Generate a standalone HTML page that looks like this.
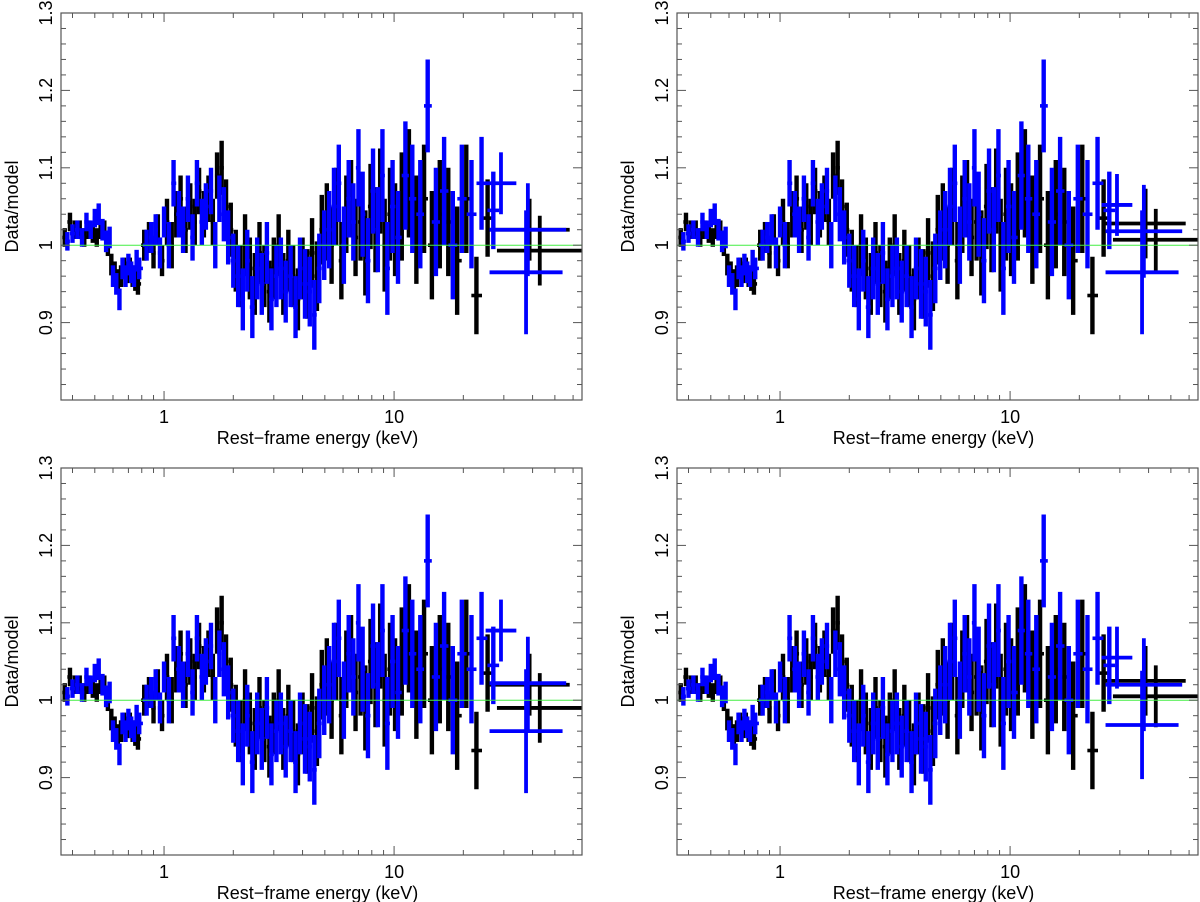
<!DOCTYPE html>
<html><head><meta charset="utf-8"><style>
html,body{margin:0;padding:0;background:#fff;}
svg{display:block;font-family:"Liberation Sans",sans-serif;}
</style></head><body>
<svg id="fig" width="1200" height="902" viewBox="0 0 1200 902" xmlns="http://www.w3.org/2000/svg"></svg>
<script>
// Black series (energy keV, ratio, error)
const blackE=[0.37,0.39,0.41,0.43,0.45,0.47,0.49,0.51,0.53,0.55,0.57,0.59,0.61,0.63,0.65,0.67,0.69,0.71,0.73,0.75,0.77,
0.82,0.86,0.9,0.94,0.98,
1.03,1.08,1.13,1.18,1.24,1.3,1.36,1.42,1.49,1.56,1.63,1.7,1.78,1.86,1.95,
2.05,2.15,2.25,2.36,2.48,2.6,2.73,2.87,3.0,3.15,3.3,3.47,3.64,3.82,4.0,4.2,4.4,4.62,4.85,
5.1,5.35,5.6,5.9,6.2,6.5,6.8,7.15,7.5,7.9,8.3,8.7,9.1,9.6,10.1,
10.8,11.6,12.5,13.5,14.6,15.8,17.2,18.8,20.6,22.8,25.5];
const blackR=[1.01,1.03,1.02,1.02,1.01,1.02,1.015,1.01,1.02,1.02,
1.0,0.975,0.965,0.955,0.96,0.97,0.965,0.97,0.96,0.955,0.95,
1.0,1.01,0.99,1.02,0.98,
1.03,1.0,1.04,1.06,1.02,1.05,1.03,1.07,1.04,1.06,1.03,1.09,1.1,1.05,1.02,
0.98,0.96,1.0,0.97,0.95,0.99,0.96,0.94,0.97,1.0,0.95,0.98,0.96,0.93,0.97,0.95,0.99,0.96,1.02,
1.03,1.0,1.05,0.98,1.04,1.06,1.01,1.03,0.99,1.05,1.02,1.07,1.0,1.04,1.02,
1.05,1.08,1.02,1.06,1.0,1.04,1.03,0.98,1.06,0.935,1.035];
const blackErr=[.012,.012,.012,.012,.012,.012,.012,.012,.012,.012,.014,.014,.014,.014,.014,.014,.014,.014,.014,.014,.014,
.02,.02,.02,.02,.02,
.03,.03,.03,.03,.03,.03,.03,.03,.03,.03,.03,.03,.035,.035,.035,
.04,.04,.04,.04,.04,.04,.04,.04,.04,.04,.04,.04,.04,.04,.04,.045,.045,.045,.045,
.05,.05,.05,.05,.05,.05,.05,.05,.055,.055,.055,.055,.06,.06,.06,
.07,.07,.07,.07,.07,.07,.07,.07,.07,.05,.05];
// Blue series
const blueE=[0.38,0.40,0.42,0.44,0.46,0.48,0.50,0.52,0.54,0.56,0.58,0.60,0.62,0.64,0.66,0.68,0.70,0.72,0.74,0.76,0.78,
0.84,0.88,0.92,0.96,1.0,
1.05,1.1,1.16,1.21,1.27,1.33,1.39,1.46,1.52,1.6,1.67,1.74,1.82,1.9,2.0,
2.1,2.2,2.3,2.42,2.54,2.66,2.8,2.93,3.08,3.22,3.38,3.55,3.73,3.9,4.1,4.3,4.5,4.73,4.97,
5.22,5.48,5.75,6.05,6.35,6.65,7.0,7.3,7.7,8.1,8.5,8.9,9.35,9.85,10.4,
11.2,12.0,13.0,14.0,15.2,16.5,18.0,19.7,21.7,24,27];
const blueR=[1.005,1.015,1.02,1.01,1.03,1.02,1.035,1.04,1.02,1.005,1.01,0.96,0.95,0.93,0.97,0.96,0.975,0.965,0.96,0.98,0.97,
1.0,1.01,1.02,0.99,1.03,
1.0,1.08,1.04,1.02,1.06,1.01,1.08,1.03,1.05,1.07,1.0,1.06,1.04,1.01,0.98,
0.96,0.93,0.98,0.92,0.97,0.95,0.99,0.93,0.96,0.97,0.94,0.96,0.92,0.97,0.95,0.94,0.91,0.97,1.0,
1.02,1.05,1.08,1.0,1.06,1.03,1.1,1.04,0.98,1.07,1.02,1.09,0.97,1.05,1.01,
1.09,1.06,1.04,1.18,1.03,1.07,1.0,1.06,1.04,1.08,1.045];
const blueErr=[.012,.012,.012,.012,.012,.012,.012,.014,.014,.014,.014,.014,.014,.014,.014,.014,.014,.014,.014,.014,.014,
.02,.02,.02,.02,.02,
.03,.03,.03,.03,.03,.03,.03,.03,.03,.03,.03,.03,.035,.035,.035,
.04,.04,.04,.04,.04,.04,.04,.04,.04,.04,.04,.04,.04,.04,.045,.045,.045,.045,.045,
.05,.05,.05,.05,.05,.05,.05,.055,.055,.055,.055,.06,.06,.06,.06,
.07,.07,.07,.06,.07,.07,.07,.07,.07,.06,.05];
// Wide high-energy bins per panel: [Elo, Ehi, ratio, err]
const tailBlack=[[[26,58,1.02,0.04],[28,66,0.993,0.045]],[[26,58,1.028,0.045],[28,66,1.007,0.04]],[[26,58,1.02,0.04],[28,66,0.99,0.045]],[[26,58,1.025,0.045],[28,66,1.005,0.04]]];
const tailBlue=[[[26,56,1.02,0.06],[26,54,0.965,0.08],[25,34,1.08,0.04]],[[26,56,1.018,0.06],[26,54,0.965,0.08],[25,34,1.052,0.04]],[[26,56,1.022,0.06],[26,54,0.96,0.08],[25,34,1.09,0.04]],[[26,56,1.02,0.06],[26,54,0.968,0.07],[25,34,1.055,0.04]]];
const yTicks=[0.9,1,1.1,1.2,1.3];
const yTickLabels=["0.9","1","1.1","1.2","1.3"];
const xTicks=[1,10];
const xTickLabels=["1","10"];

const NS="http://www.w3.org/2000/svg";
const svg=document.getElementById('fig');
function mk(tag,attrs,parent){const e=document.createElementNS(NS,tag);for(const k in attrs)e.setAttribute(k,attrs[k]);(parent||svg).appendChild(e);return e;}
const XMIN=Math.log10(0.3565),XMAX=Math.log10(65.6),YMIN=0.8,YMAX=1.3;
const W=521,H=387;
const offsets=[[61,13],[677,13],[61,468],[677,468]];
offsets.forEach((o,pi)=>{
  const [L,T]=o;
  const xs=e=>L+(Math.log10(e)-XMIN)/(XMAX-XMIN)*W;
  const ys=v=>T+H-(v-YMIN)/(YMAX-YMIN)*H;
  const g=mk('g',{});
  
  
  const clip=mk('clipPath',{id:'c'+pi},g);
  mk('rect',{x:L,y:T,width:W,height:H},clip);
  const plot=mk('g',{'clip-path':'url(#c'+pi+')'},g);
  function series(E,R,Er,color,name){
    const sg=mk('g',{stroke:color,'stroke-width':4.4,fill:'none'},plot);
    
    
    for(let i=0;i<E.length;i++){
      const lo=i>0?Math.sqrt(E[i-1]*E[i]):E[i]/1.025;
      const hi=i<E.length-1?Math.sqrt(E[i]*E[i+1]):E[i]*1.06;
      const x=xs(E[i]),y=ys(R[i]);
      const v=mk('line',{x1:x,x2:x,y1:ys(R[i]+Er[i]),y2:ys(R[i]-Er[i])},sg);
      
      
      mk('line',{x1:xs(lo),x2:xs(hi),y1:y,y2:y,'stroke-width':3.6},sg);
    }
  }
  function tail(arr,color,name){
    const sg=mk('g',{stroke:color,'stroke-width':3.8},plot);
    
    
    arr.forEach(t=>{
      const xm=xs(Math.sqrt(t[0]*t[1]));
      mk('line',{x1:xs(t[0]),x2:xs(t[1]),y1:ys(t[2]),y2:ys(t[2])},sg);
      mk('line',{x1:xm,x2:xm,y1:ys(t[2]+t[3]),y2:ys(t[2]-t[3])},sg);
    });
  }
  series(blackE,blackR,blackErr,'#000','black-series');
  tail(tailBlack[pi],'#000','black-wide-bins');
  series(blueE,blueR,blueErr,'#0000ff','blue-series');
  tail(tailBlue[pi],'#0000ff','blue-wide-bins');
  const ref=mk('line',{x1:L,x2:L+W,y1:ys(1),y2:ys(1),stroke:'#44ee44','stroke-width':1},g);
  
  
  const fr=mk('rect',{x:L,y:T,width:W,height:H,fill:'none',stroke:'#555','stroke-width':1.2},g);
  
  
  const tk=mk('g',{stroke:'#555','stroke-width':1},g);
  for(let v=0.82;v<1.3;v+=0.02){
    const major=Math.abs(Math.round(v*10)-v*10)<1e-6;const len=major?9:5;const y=ys(v);
    mk('line',{x1:L,x2:L+len,y1:y,y2:y},tk);mk('line',{x1:L+W,x2:L+W-len,y1:y,y2:y},tk);
  }
  for(let d=-1;d<=1;d++)for(let m=1;m<10;m++){
    const e=m*Math.pow(10,d);const lg=Math.log10(e);if(lg<XMIN||lg>XMAX)continue;
    const x=xs(e);const len=m===1?9:5;
    mk('line',{x1:x,x2:x,y1:T+H,y2:T+H-len},tk);mk('line',{x1:x,x2:x,y1:T,y2:T+len},tk);
  }
  yTicks.forEach((v,i)=>{
    const y=ys(v);
    const t=mk('text',{x:0,y:0,transform:`translate(${L-9},${y}) rotate(-90)`,'text-anchor':'middle','font-size':18,fill:'#000'},g);
    t.textContent=yTickLabels[i];
    
    
  });
  xTicks.forEach((v,i)=>{
    const t=mk('text',{x:xs(v),y:T+H+23,'text-anchor':'middle','font-size':18,fill:'#000'},g);
    t.textContent=xTickLabels[i];
    
    
  });
  const xt=mk('text',{x:L+W/2-4,y:T+H+44,'text-anchor':'middle','font-size':18,fill:'#000'},g);
  xt.textContent='Rest\u2212frame energy (keV)';
  
  
  const yt=mk('text',{x:0,y:0,transform:`translate(${L-43},${T+H/2}) rotate(-90)`,'text-anchor':'middle','font-size':18,fill:'#000'},g);
  yt.textContent='Data/model';
  
  
});
</script>
</body></html>
